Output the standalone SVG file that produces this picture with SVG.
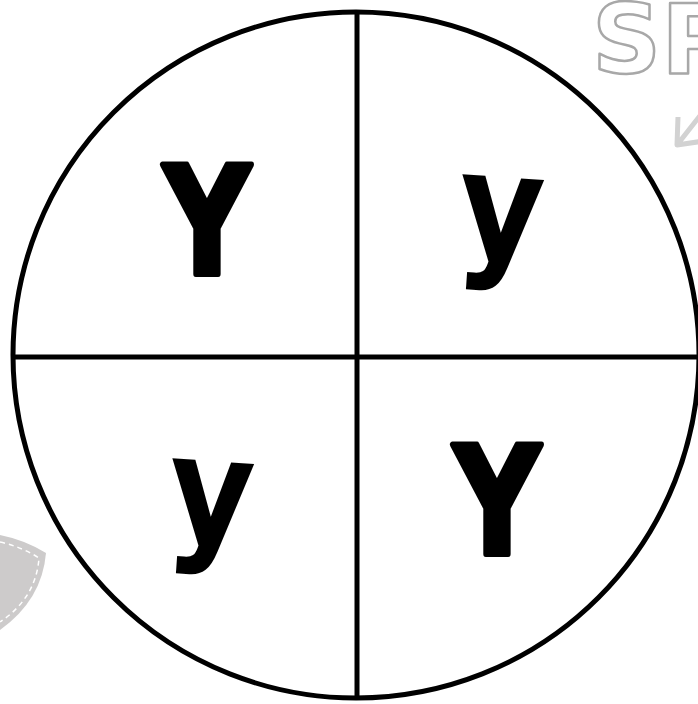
<svg xmlns="http://www.w3.org/2000/svg" width="698" height="704" viewBox="0 0 698 704">
<style>
.ln{fill:none;stroke:#000;stroke-width:5}
.y{font-family:"DejaVu Sans","Liberation Sans",sans-serif;font-weight:bold;font-size:150px;fill:#000;stroke:#000;stroke-width:6;stroke-linejoin:round;text-anchor:middle}
.yl{font-family:"DejaVu Sans","Liberation Sans",sans-serif;font-weight:bold;font-size:150px;fill:#000;text-anchor:middle}
.sp{font-family:"DejaVu Sans","Liberation Sans",sans-serif;font-weight:bold;font-size:96px;fill:#fff;stroke:#a8a8a8;stroke-width:2.5;stroke-linejoin:round}
</style>
<rect width="698" height="704" fill="#fff"/>
<g id="decor">
<path d="M0,535 Q25,540 46,553 Q42,600 0,630 Z" fill="#cdcbcb"/>
<path d="M0,542 Q22,547 39,558 Q36,598 0,622" fill="none" stroke="#fff" stroke-width="1.5" stroke-dasharray="5,4"/>
<text class="sp" x="592" y="73">SP</text>
<path d="M678,117 L677,145 L704,141 M677,145 L706,108" stroke="#d2d2d2" stroke-width="5" stroke-linejoin="round" fill="none"/>
</g>
<g id="circle">
<circle class="ln" cx="356" cy="355" r="343"/>
</g>
<g id="connectors">
<line class="ln" x1="357" y1="12" x2="357" y2="698"/>
<line class="ln" x1="13" y1="357" x2="699" y2="357"/>
</g>
<g id="q1"><text class="y" transform="translate(207,274) scale(0.8,1)">Y</text></g>
<g id="q2"><text class="yl" transform="translate(498,259) rotate(4) scale(0.88,1)">y</text></g>
<g id="q3"><text class="yl" transform="translate(208,543) rotate(4) scale(0.88,1)">y</text></g>
<g id="q4"><text class="y" transform="translate(497,554) scale(0.8,1)">Y</text></g>
</svg>
